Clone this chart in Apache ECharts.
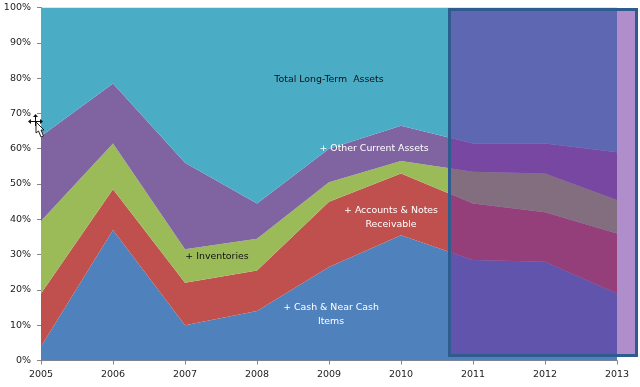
<!DOCTYPE html>
<html>
<head>
<meta charset="utf-8">
<style>
  html, body { margin: 0; padding: 0; background: #fff; }
  #chart { width: 640px; height: 387px; }
</style>
<script src="https://cdn.jsdelivr.net/npm/echarts@6/dist/echarts.min.js"></script>
</head>
<body>
<div id="chart"></div>
<script>
const years = ["2005", "2006", "2007", "2008", "2009", "2010", "2011", "2012", "2013"];
// share of total assets, each layer is stacked on the one before
const cash = [4, 37, 10, 14, 26.5, 35.5, 28.5, 28, 19];
const receivable = [15, 11.5, 12, 11.5, 18.5, 17.5, 16, 14, 17];
const inventories = [20.5, 13, 9.5, 9, 5.5, 3.5, 9, 11, 9.5];
const otherCurrent = [24, 17, 24.5, 10, 9.5, 10, 8, 8.5, 13.5];
const longTerm = [36.5, 21.5, 44, 55.5, 40, 33.5, 38.5, 38.5, 41];

const FONT = "DejaVu Sans";

function area(name, data, color) {
  return {
    name: name,
    type: "line",
    stack: "total",
    data: data,
    showSymbol: false,
    lineStyle: { width: 0 },
    areaStyle: { color: color, opacity: 1 }
  };
}

function note(text, x, y, color) {
  return {
    type: "text",
    x: x,
    y: y,
    z: 5,
    style: {
      text: text,
      fill: color,
      font: "9.4px " + FONT,
      align: "center",
      verticalAlign: "middle",
      lineHeight: 14
    }
  };
}

function mark(points) {
  return {
    type: "polygon",
    z: 7,
    shape: { points: points },
    style: { fill: "#111" }
  };
}

var myChart = echarts.init(document.getElementById("chart"));
myChart.setOption({
  animation: false,
  backgroundColor: "#fff",
  grid: { left: 41, right: 23, top: 7.5, bottom: 26.5 },
  xAxis: {
    type: "category",
    boundaryGap: false,
    data: years,
    axisLine: { lineStyle: { color: "#868686", width: 1 } },
    axisTick: { length: 4, lineStyle: { color: "#868686" } },
    axisLabel: { color: "#222", fontFamily: FONT, fontSize: 9.5, margin: 9, interval: 0 }
  },
  yAxis: {
    type: "value",
    min: 0,
    max: 100,
    interval: 10,
    axisLine: { show: true, lineStyle: { color: "#868686", width: 1 } },
    axisTick: { show: true, length: 4, lineStyle: { color: "#868686" } },
    axisLabel: { color: "#222", fontFamily: FONT, fontSize: 9.5, margin: 10, formatter: "{value}%" },
    splitLine: { show: false }
  },
  series: [
    area("Cash", cash, "#4f81bd"),
    area("Receivable", receivable, "#c0504d"),
    area("Inventories", inventories, "#9bbb59"),
    area("Other", otherCurrent, "#8064a2"),
    area("Long-Term", longTerm, "#4bacc6")
  ],
  graphic: [
    // highlighted forecast box
    {
      type: "rect",
      z: 4,
      shape: { x: 449.5, y: 9.5, width: 187, height: 346 },
      style: { fill: "rgba(112,48,160,0.55)", stroke: "#2f5c8f", lineWidth: 3 }
    },
    note("Total Long-Term  Assets", 329, 80, "#111"),
    note("+ Other Current Assets", 374, 149, "#fff"),
    note("+ Accounts & Notes\nReceivable", 391, 218, "#fff"),
    note("+ Inventories", 217, 257, "#111"),
    note("+ Cash & Near Cash\nItems", 331, 315, "#fff"),
    // stray mouse cursor in the screenshot
    {
      type: "polygon",
      z: 6,
      shape: { points: [[36, 122], [36, 133], [38.5, 131], [41, 137], [43.5, 136], [41, 130], [44, 130]] },
      style: { fill: "#fff", stroke: "#222", lineWidth: 1 }
    },
    {
      type: "polyline",
      z: 7,
      shape: { points: [[30, 121.5], [41, 121.5]] },
      style: { stroke: "#111", lineWidth: 1, fill: null }
    },
    {
      type: "polyline",
      z: 7,
      shape: { points: [[35.5, 116], [35.5, 126]] },
      style: { stroke: "#111", lineWidth: 1, fill: null }
    },
    mark([[28, 121.5], [31, 119], [31, 124]]),
    mark([[43, 121.5], [40, 119], [40, 124]]),
    mark([[35.5, 114], [33, 117], [38, 117]])
  ]
});
</script>
</body>
</html>
